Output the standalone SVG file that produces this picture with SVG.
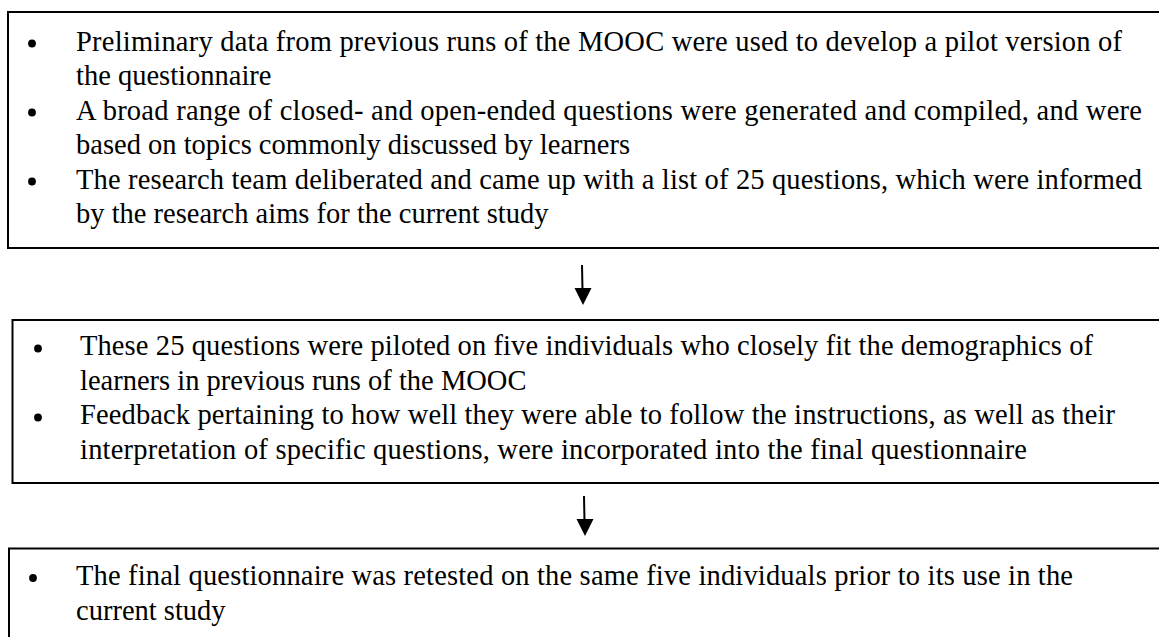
<svg xmlns="http://www.w3.org/2000/svg" width="1159" height="637" viewBox="0 0 1159 637">
<style>
.box{fill:#fff;stroke:#000;stroke-width:2}
.t{font-family:"Liberation Serif","Times New Roman",serif;font-size:28.5px;fill:#000}
.b{fill:#000}
.conn line{stroke:#000;stroke-width:2}
.conn path{fill:#000}
</style>
<rect width="1159" height="637" fill="#fff"/>
<g id="node1">
<rect class="box" x="8" y="12" width="1160" height="236"/>
<circle class="b" cx="32" cy="43.5" r="3.9"/>
<text class="t" x="76" y="50.5" textLength="1046" lengthAdjust="spacing">Preliminary data from previous runs of the MOOC were used to develop a pilot version of</text>
<text class="t" x="76" y="85">the questionnaire</text>
<circle class="b" cx="32" cy="112.5" r="3.9"/>
<text class="t" x="76" y="119.5" textLength="1066" lengthAdjust="spacing">A broad range of closed- and open-ended questions were generated and compiled, and were</text>
<text class="t" x="76" y="154">based on topics commonly discussed by learners</text>
<circle class="b" cx="32" cy="181.5" r="3.9"/>
<text class="t" x="76" y="188.5" textLength="1066" lengthAdjust="spacing">The research team deliberated and came up with a list of 25 questions, which were informed</text>
<text class="t" x="76" y="223">by the research aims for the current study</text>
</g>
<g id="node2">
<rect class="box" x="12.5" y="320" width="1160" height="163"/>
<circle class="b" cx="38" cy="348.5" r="3.9"/>
<text class="t" x="80" y="355" textLength="1013" lengthAdjust="spacing">These 25 questions were piloted on five individuals who closely fit the demographics of</text>
<text class="t" x="80" y="389.5">learners in previous runs of the MOOC</text>
<circle class="b" cx="38" cy="417.5" r="3.9"/>
<text class="t" x="80" y="424" textLength="1035" lengthAdjust="spacing">Feedback pertaining to how well they were able to follow the instructions, as well as their</text>
<text class="t" x="80" y="458.5" textLength="947" lengthAdjust="spacing">interpretation of specific questions, were incorporated into the final questionnaire</text>
</g>
<g id="node3">
<rect class="box" x="9" y="548.5" width="1160" height="120"/>
<circle class="b" cx="33" cy="578" r="3.9"/>
<text class="t" x="76" y="585" textLength="997" lengthAdjust="spacing">The final questionnaire was retested on the same five individuals prior to its use in the</text>
<text class="t" x="76" y="619.5">current study</text>
</g>
<g id="connectors" class="conn">
<line x1="582" y1="265" x2="582.5" y2="290"/>
<path d="M574.5,288 L591.5,288 L583,305 Z"/>
<line x1="584" y1="496" x2="584.5" y2="521"/>
<path d="M576.5,519 L593.5,519 L585,536 Z"/>
</g>
</svg>
